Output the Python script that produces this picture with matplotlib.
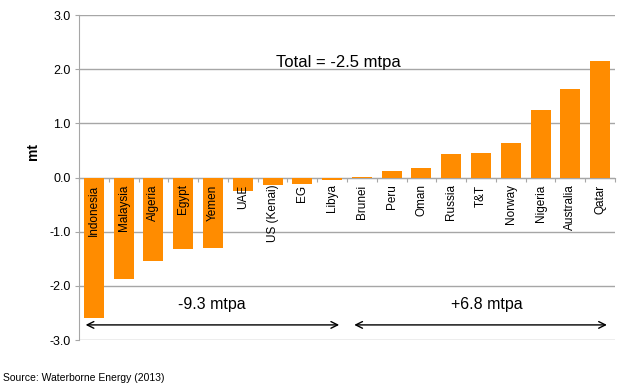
import matplotlib
matplotlib.use("Agg")
import matplotlib.pyplot as plt
import numpy as np

countries = ["Indonesia", "Malaysia", "Algeria", "Egypt", "Yemen", "UAE", "US (Kenai)", "EG", "Libya",
             "Brunei", "Peru", "Oman", "Russia", "T&T", "Norway", "Nigeria", "Australia", "Qatar"]
change_mt = [-2.59, -1.87, -1.54, -1.32, -1.30, -0.25, -0.14, -0.12, -0.05,
             0.01, 0.13, 0.18, 0.43, 0.46, 0.63, 1.25, 1.63, 2.15]
y_ticks = [3.0, 2.0, 1.0, 0.0, -1.0, -2.0, -3.0]

total_label = "Total = -2.5 mtpa"
loss_label = "-9.3 mtpa"
gain_label = "+6.8 mtpa"
source = "Source: Waterborne Energy (2013)"

plt.rcParams["font.family"] = ["Liberation Sans", "DejaVu Sans"]

fig = plt.figure(figsize=(6.4, 3.9), dpi=100)
ax = fig.add_axes([0.1234, 0.128, 0.8376, 0.8335])

x = np.arange(len(countries))
ax.bar(x, change_mt, width=0.67, color="#FF8C00", zorder=3)

ax.set_xlim(-0.5, len(countries) - 0.5)
ax.set_ylim(-3.0, 3.0)
ax.set_yticks(y_ticks)
ax.set_yticklabels([f"{v:.1f}" for v in y_ticks], fontsize=9)
ax.yaxis.grid(True, color="#a6a6a6", linewidth=1.0, zorder=0)
ax.set_axisbelow(True)

for side in ("top", "right"):
    ax.spines[side].set_visible(False)
ax.spines["left"].set_color("#a6a6a6")
ax.spines["bottom"].set_position(("data", 0))
ax.spines["bottom"].set_color("#a6a6a6")
ax.tick_params(axis="y", length=3, color="#a6a6a6", pad=3)

ax.set_xticks(np.arange(len(countries) + 1) - 0.5)
ax.set_xticklabels([])
ax.tick_params(axis="x", length=3, color="#a6a6a6", direction="out")

for i, name in enumerate(countries):
    ax.annotate(name, (i, 0), xytext=(0, -5), textcoords="offset points",
                rotation=90, ha="center", va="top", fontsize=8.5)

ax.set_ylabel("mt", fontsize=10, fontweight="bold")
ax.yaxis.set_label_coords(-0.072, 0.58)

ax.text(8.2, 2.12, total_label, ha="center", va="center", fontsize=12)
ax.text(3.96, -2.34, loss_label, ha="center", va="center", fontsize=11.5)
ax.text(13.18, -2.34, gain_label, ha="center", va="center", fontsize=11.5)

arrow_style = dict(arrowstyle="<->", color="black", lw=1.0, mutation_scale=12)
ax.annotate("", xy=(-0.37, -2.72), xytext=(8.33, -2.72), arrowprops=arrow_style)
ax.annotate("", xy=(8.65, -2.72), xytext=(17.32, -2.72), arrowprops=arrow_style)

fig.text(0.005, 0.03, source, fontsize=7.5, ha="left", va="center")

fig.savefig("out.png", dpi=100)
